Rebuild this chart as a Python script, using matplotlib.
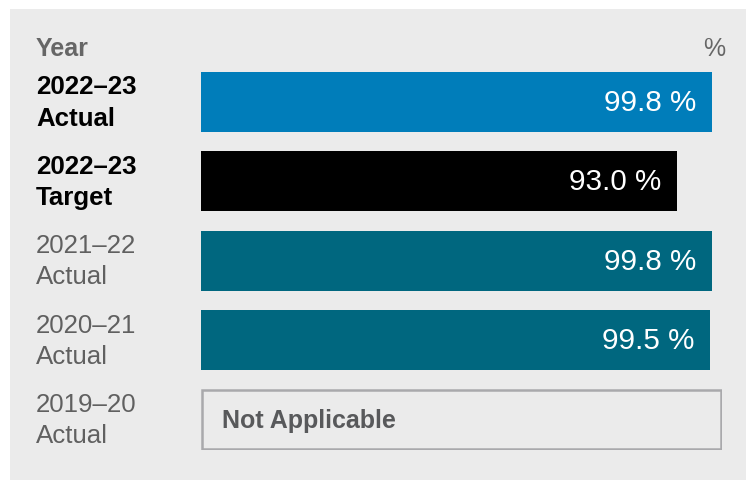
import matplotlib.pyplot as plt
from matplotlib.patches import Rectangle

plt.rcParams['font.family'] = ['Liberation Sans', 'DejaVu Sans']

# data
years = ['2022\u201323\nActual', '2022\u201323\nTarget', '2021\u201322\nActual',
         '2020\u201321\nActual', '2019\u201320\nActual']
values = [99.8, 93.0, 99.8, 99.5, None]
value_labels = ['99.8 %', '93.0 %', '99.8 %', '99.5 %', 'Not Applicable']
bar_colors = ['#007dba', '#000000', '#00677f', '#00677f', None]
label_bold = [True, True, False, False, False]

W, H = 746, 481
fig = plt.figure(figsize=(W / 100, H / 100), dpi=100)
fig.patch.set_facecolor('white')

# grey panel behind everything
fig.patches.append(Rectangle((10 / W, 0), (W - 10) / W, (H - 10) / H,
                             transform=fig.transFigure, facecolor='#ebebeb',
                             edgecolor='none', zorder=-10))

pitch = 79.4
bar_h = 60 / pitch
ax_left, ax_right = 201, 722
ax_top = 73
ax_bot = ax_top + (4 + bar_h) * pitch
ax = fig.add_axes([ax_left / W, 1 - ax_bot / H, (ax_right - ax_left) / W, (ax_bot - ax_top) / H])
ax.set_facecolor('none')
for s in ax.spines.values():
    s.set_visible(False)
ax.set_xticks([])
ax.set_yticks([])

px_per_unit = 511 / 99.8
ax.set_xlim(0, (ax_right - ax_left) / px_per_unit)
ax.set_ylim(4 + bar_h / 2, -bar_h / 2)

for i, v in enumerate(values):
    if v is not None:
        ax.barh(i, v, height=bar_h, color=bar_colors[i], left=0)
        ax.annotate(value_labels[i], xy=(v, i), xytext=(-11.5, 0), textcoords='offset points',
                    ha='right', va='center', color='white', fontsize=21.3)
    else:
        ax.add_patch(Rectangle((0.002, i - bar_h / 2 + 0.01), 0.996, bar_h - 0.02,
                               transform=ax.get_yaxis_transform(), facecolor='none',
                               edgecolor='#a9a9ac', linewidth=1.8))
        ax.text(0.04, i, value_labels[i], transform=ax.get_yaxis_transform(),
                ha='left', va='center', color='#58595b', fontsize=18, fontweight='bold')

# row labels on the left
lx = (36 - ax_left) / (ax_right - ax_left)
for i, lab in enumerate(years):
    ax.text(lx, i, lab, transform=ax.get_yaxis_transform(), ha='left', va='center',
            fontsize=18.6, linespacing=1.38,
            fontweight='bold' if label_bold[i] else 'normal',
            color='#000000' if label_bold[i] else '#606060')

fig.text(36 / W, 1 - 56 / H, 'Year', ha='left', va='baseline', fontsize=18,
         fontweight='bold', color='#666666')
fig.text(725 / W, 1 - 56 / H, '%', ha='right', va='baseline', fontsize=18, color='#666666')

fig.savefig('out.png', dpi=100)
